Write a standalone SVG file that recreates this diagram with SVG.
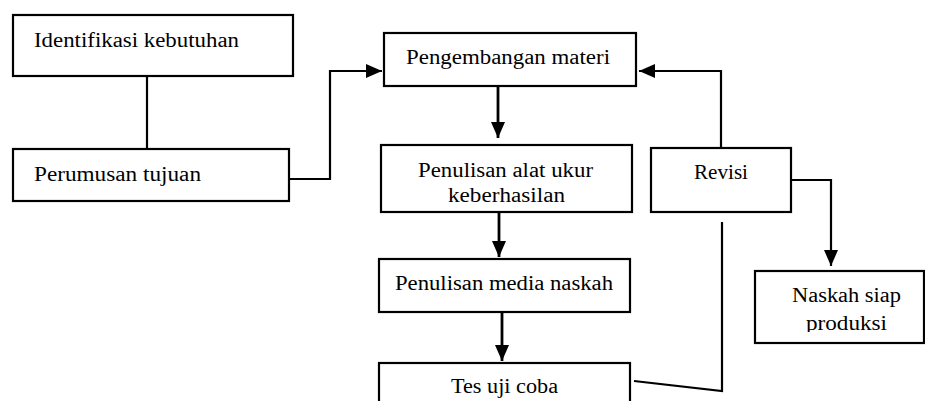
<svg xmlns="http://www.w3.org/2000/svg" width="925" height="401" viewBox="0 0 925 401">
<style>
.box{fill:#fff;stroke:#000;stroke-width:2.2}
.ln{fill:none;stroke:#000;stroke-width:2.2}
.ar{fill:none;stroke:#000;stroke-width:2.8}
text{font-family:"Liberation Serif","DejaVu Serif",serif;font-size:20px;fill:#000}
</style>
<defs>
<marker id="ah" viewBox="0 0 16 14" refX="16" refY="7" markerWidth="16" markerHeight="14" markerUnits="userSpaceOnUse" orient="auto">
<path d="M0,0 L16,7 L0,14 z" fill="#000"/>
</marker>
<clipPath id="clipN"><rect x="750" y="260" width="180" height="72"/></clipPath>
</defs>
<g id="connectors">
<path class="ln" d="M147,76 V149"/>
<path class="ln" d="M290,179 H330 V71 H382" marker-end="url(#ah)"/>
<path class="ar" d="M498,86 V138" marker-end="url(#ah)"/>
<path class="ar" d="M499,212 V257" marker-end="url(#ah)"/>
<path class="ar" d="M502,312 V361" marker-end="url(#ah)"/>
<path class="ln" d="M721,162 V71 H639" marker-end="url(#ah)"/>
<path class="ln" d="M791,180 H831 V266" marker-end="url(#ah)"/>
<path class="ln" d="M722,222 V391 L634,381"/>
</g>
<g id="n1">
<rect class="box" x="13" y="15" width="280" height="61"/>
<text x="34" y="47" textLength="205" lengthAdjust="spacingAndGlyphs">Identifikasi kebutuhan</text>
</g>
<g id="n2">
<rect class="box" x="13" y="149" width="276" height="52"/>
<text x="34" y="181" textLength="167" lengthAdjust="spacingAndGlyphs">Perumusan tujuan</text>
</g>
<g id="n3">
<rect class="box" x="384" y="33" width="252" height="53"/>
<text x="406" y="64" textLength="204" lengthAdjust="spacingAndGlyphs">Pengembangan materi</text>
</g>
<g id="n4">
<rect class="box" x="381" y="145" width="251" height="67"/>
<text x="418" y="177" textLength="175" lengthAdjust="spacingAndGlyphs">Penulisan alat ukur</text>
<text x="448" y="202" textLength="117" lengthAdjust="spacingAndGlyphs">keberhasilan</text>
</g>
<g id="n5">
<rect class="box" x="651" y="148" width="140" height="64"/>
<text x="694" y="179" textLength="54" lengthAdjust="spacingAndGlyphs">Revisi</text>
</g>
<g id="n6">
<rect class="box" x="379" y="259" width="251" height="53"/>
<text x="395" y="290" textLength="218" lengthAdjust="spacingAndGlyphs">Penulisan media naskah</text>
</g>
<g id="n7">
<rect class="box" x="379" y="363" width="251" height="60"/>
<text x="451" y="393" textLength="107" lengthAdjust="spacingAndGlyphs">Tes uji coba</text>
</g>
<g id="n8">
<rect class="box" x="755" y="271" width="169" height="72"/>
<text x="792" y="302" textLength="109" lengthAdjust="spacingAndGlyphs">Naskah siap</text>
<text x="806" y="330" textLength="81" lengthAdjust="spacingAndGlyphs" clip-path="url(#clipN)">produksi</text>
</g>
</svg>
